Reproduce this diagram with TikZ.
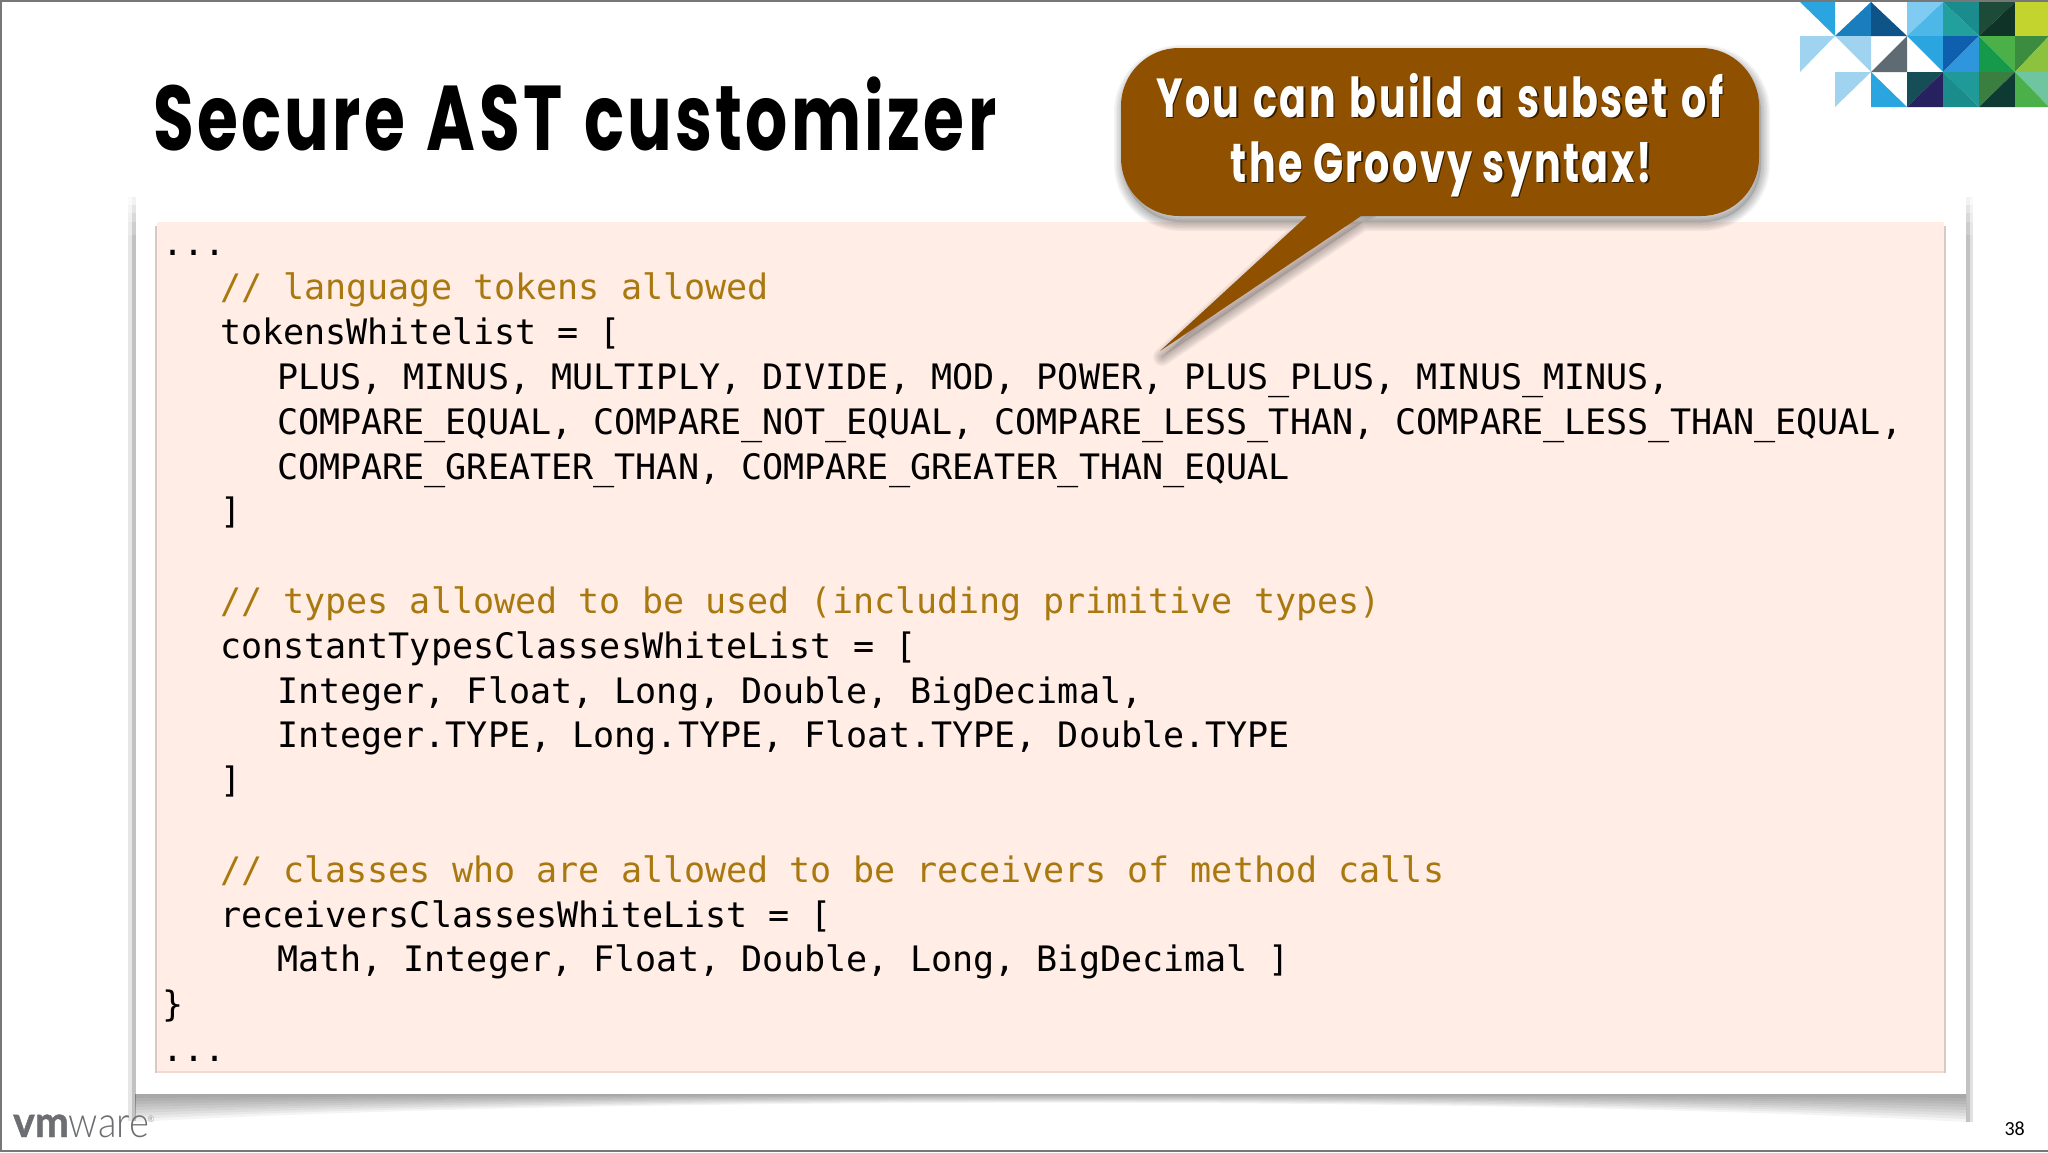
\documentclass[tikz,border=0pt]{standalone}
\usepackage{fontspec}
\setmainfont{Liberation Sans}
\newfontfamily\codefont{DejaVu Sans Mono}
\newfontfamily\headfont[FakeStretch=0.72,LetterSpace=3.6]{Poppins}
\newfontfamily\bubblefont[FakeStretch=0.72,LetterSpace=4.2]{Poppins}
\newfontfamily\numfont{Carlito}
\newfontfamily\vmfont[FakeStretch=0.95,FakeBold=1]{Lato}
\newfontfamily\warefont[FakeStretch=0.89]{Lato Light}
\definecolor{brownfill}{HTML}{8F5000}
\definecolor{pinkfill}{HTML}{FFEDE6}
\definecolor{pinkside}{HTML}{D6CBC4}
\definecolor{pinkbase}{HTML}{F1DAD2}
\definecolor{commentcol}{HTML}{A9790F}
\definecolor{logogray}{HTML}{6D6E71}
\definecolor{edgegray}{HTML}{777777}
\definecolor{skyA}{HTML}{2AA5DF}
\definecolor{skyB}{HTML}{A0D3F0}
\definecolor{HTMLa}{HTML}{1A7DBE}
\definecolor{HTMLb}{HTML}{0F5488}
\definecolor{HTMLc}{HTML}{7FCBF1}
\definecolor{HTMLd}{HTML}{4DB8E8}
\definecolor{HTMLe}{HTML}{1A8C8E}
\definecolor{HTMLf}{HTML}{22A09E}
\definecolor{HTMLg}{HTML}{1D4B38}
\definecolor{HTMLh}{HTML}{0F3326}
\definecolor{HTMLi}{HTML}{C4D42E}
\definecolor{HTMLj}{HTML}{5F6B73}
\definecolor{HTMLk}{HTML}{0E5FAE}
\definecolor{HTMLl}{HTML}{2E96DC}
\definecolor{HTMLm}{HTML}{149A4A}
\definecolor{HTMLn}{HTML}{4CB048}
\definecolor{HTMLo}{HTML}{3C8C3F}
\definecolor{HTMLp}{HTML}{8CC23E}
\definecolor{HTMLq}{HTML}{164E58}
\definecolor{HTMLr}{HTML}{28215F}
\definecolor{HTMLs}{HTML}{1F9A98}
\definecolor{HTMLt}{HTML}{1B8C8C}
\definecolor{HTMLu}{HTML}{3A7F3F}
\definecolor{HTMLv}{HTML}{0E3A34}
\definecolor{HTMLw}{HTML}{6FC5A0}
\definecolor{HTMLx}{HTML}{4CB04A}
\tikzset{
  codeline/.style={anchor=base west,inner sep=0pt,outer sep=0pt,text=black,font=\codefont\fontsize{35.06}{35}\selectfont},
  commentline/.style={codeline,text=commentcol},
  headtext/.style={anchor=base west,inner sep=0pt,text=black,font=\headfont\bfseries\fontsize{92}{92}\selectfont},
  bubbletext/.style={anchor=base,inner sep=0pt,font=\bubblefont\bfseries\fontsize{55}{55}\selectfont},
}
\newcommand{\tri}[4]{\fill[fill=#1] #2 -- #3 -- #4 -- cycle;}
\newcommand{\bubblepath}{[rounded corners=58pt] (1121,48) -- (1759,48) -- (1759,216) -- (1121,216) -- cycle [sharp corners] (1370,210) -- (1160,351) -- (1313.5,210) -- cycle}
\newcommand{\sublineone}{You\hspace{3.4pt} can\hspace{3.4pt} build\hspace{3.4pt} a\hspace{3.4pt} subset\hspace{3.4pt} of}
\begin{document}
\begin{tikzpicture}[x=1pt,y=-1pt]
\useasboundingbox (0,0) rectangle (2048,1152);
\fill[white] (0,0) rectangle (2048,1152);
% slide edge
\draw[edgegray,line width=2pt] (2048,1) -- (1,1) -- (1,1151) -- (2048,1151);
% frame shadows
\foreach \k in {4,7,...,28}{
  \fill[black,opacity=0.045] (135,1094) -- (1966,1094) -- (1966,1094+\k)
    .. controls (1500,1094+0.08*\k) and (600,1094+0.08*\k) .. (135,1094+\k) -- cycle;
}
\foreach \y in {197,205,213,222,235}{
  \fill[black,opacity=0.05] (132,\y) rectangle (136,1121);
  \fill[black,opacity=0.02] (128,\y) rectangle (132,1121);
  \fill[black,opacity=0.05] (1966,\y) rectangle (1970,1122);
  \fill[black,opacity=0.025] (1970,\y) rectangle (1973,1122);
}
% frame and panel
\fill[white] (136,200) rectangle (1966,1094);
\fill[pinkfill] (157,222) rectangle (1944,1072);
\draw[pinkbase,line width=2pt] (157,1072) -- (1944,1072);
\draw[pinkside,line width=2pt] (156,226) -- (156,1073);
\draw[pinkside,line width=2pt] (1945,226) -- (1945,1073);
% mosaic
\def\xa{1800}\def\xb{1835}\def\xc{1871}\def\xd{1907}\def\xe{1943}\def\xf{1979}\def\xg{2015}\def\xh{2049}
\def\ya{2}\def\yb{36}\def\yc{72}\def\yd{107}
\tri{skyA}{(\xa,\ya)}{(\xb,\ya)}{(\xb,\yb)}
\tri{HTMLa}{(\xb,\yb)}{(\xc,\ya)}{(\xc,\yb)}
\tri{HTMLb}{(\xc,\ya)}{(\xc,\yb)}{(\xd,\yb)}
\tri{HTMLc}{(\xd,\ya)}{(\xe,\ya)}{(\xd,\yb)}
\tri{HTMLd}{(\xe,\ya)}{(\xe,\yb)}{(\xd,\yb)}
\tri{HTMLe}{(\xe,\ya)}{(\xf,\ya)}{(\xf,\yb)}
\tri{HTMLf}{(\xe,\ya)}{(\xf,\yb)}{(\xe,\yb)}
\tri{HTMLg}{(\xf,\ya)}{(\xg,\ya)}{(\xf,\yb)}
\tri{HTMLh}{(\xg,\ya)}{(\xg,\yb)}{(\xf,\yb)}
\fill[HTMLi] (\xg,\ya) rectangle (\xh,\yb);
\tri{skyB}{(\xa,\yb)}{(\xb,\yb)}{(\xa,\yc)}
\tri{skyB}{(\xb,\yb)}{(\xc,\yb)}{(\xc,\yc)}
\tri{HTMLj}{(\xc,\yc)}{(\xd,\yb)}{(\xd,\yc)}
\tri{skyA}{(\xd,\yb)}{(\xe,\yb)}{(\xe,\yc)}
\tri{HTMLk}{(\xe,\yb)}{(\xf,\yb)}{(\xe,\yc)}
\tri{HTMLl}{(\xf,\yb)}{(\xf,\yc)}{(\xe,\yc)}
\tri{HTMLm}{(\xf,\yb)}{(\xg,\yc)}{(\xf,\yc)}
\tri{HTMLn}{(\xf,\yb)}{(\xg,\yb)}{(\xg,\yc)}
\tri{HTMLo}{(\xg,\yb)}{(\xh,\yb)}{(\xg,\yc)}
\tri{HTMLp}{(\xh,\yb)}{(\xh,\yc)}{(\xg,\yc)}
\tri{skyB}{(\xb,\yc)}{(\xc,\yc)}{(\xb,\yd)}
\tri{skyA}{(\xc,\yc)}{(\xc,\yd)}{(\xd,\yd)}
\tri{HTMLq}{(\xd,\yc)}{(\xe,\yc)}{(\xd,\yd)}
\tri{HTMLr}{(\xe,\yc)}{(\xe,\yd)}{(\xd,\yd)}
\tri{HTMLs}{(\xe,\yc)}{(\xf,\yc)}{(\xf,\yd)}
\tri{HTMLt}{(\xe,\yc)}{(\xf,\yd)}{(\xe,\yd)}
\tri{HTMLu}{(\xf,\yc)}{(\xg,\yc)}{(\xf,\yd)}
\tri{HTMLv}{(\xg,\yc)}{(\xg,\yd)}{(\xf,\yd)}
\tri{HTMLw}{(\xg,\yc)}{(\xh,\yc)}{(\xh,\yd)}
\tri{HTMLx}{(\xg,\yc)}{(\xh,\yd)}{(\xg,\yd)}
% title
\node[headtext] (title) at (153,150) {Secure\hspace{4.5pt} AST\hspace{4.5pt} customizer};
% code
\node[codeline] (l0) at (162,255) {...};
\node[commentline] (l1) at (220,299.8) {// language tokens allowed};
\node[codeline] (l2) at (220,344.6) {tokensWhitelist = [};
\node[codeline] (l3) at (277,389.4) {PLUS, MINUS, MULTIPLY, DIVIDE, MOD, POWER, PLUS\_PLUS, MINUS\_MINUS,};
\node[codeline] (l4) at (277,434.2) {COMPARE\_EQUAL, COMPARE\_NOT\_EQUAL, COMPARE\_LESS\_THAN, COMPARE\_LESS\_THAN\_EQUAL,};
\node[codeline] (l5) at (277,479) {COMPARE\_GREATER\_THAN, COMPARE\_GREATER\_THAN\_EQUAL};
\node[codeline] (l6) at (220,523.8) {]};
\node[commentline] (l8) at (220,613.4) {// types allowed to be used (including primitive types)};
\node[codeline] (l9) at (220,658.2) {constantTypesClassesWhiteList = [};
\node[codeline] (l10) at (277,703) {Integer, Float, Long, Double, BigDecimal,};
\node[codeline] (l11) at (277,747.8) {Integer.TYPE, Long.TYPE, Float.TYPE, Double.TYPE};
\node[codeline] (l12) at (220,792.6) {]};
\node[commentline] (l14) at (220,882.2) {// classes who are allowed to be receivers of method calls};
\node[codeline] (l15) at (220,927) {receiversClassesWhiteList = [};
\node[codeline] (l16) at (277,971.8) {Math, Integer, Float, Double, Long, BigDecimal ]};
\node[codeline] (l17) at (162,1016.6) {\}};
\node[codeline] (l18) at (162,1061.4) {...};
% callout
\begin{scope}[shift={(2,6)}]
\foreach \w in {18,15,...,1}{
  \path[draw=black,fill=black,line width=\w pt,line join=round,draw opacity=0.045,fill opacity=0.02] \bubblepath;
}
\end{scope}
\fill[brownfill] \bubblepath;
\node[bubbletext,text=black!65!brownfill] (s1) at (1441.5,118.5) {\sublineone};
\node[bubbletext,text=black!65!brownfill] (s2) at (1443,183.5) {the Groovy syntax!};
\node[bubbletext,text=white] (t1) at (1440,117) {\sublineone};
\node[bubbletext,text=white] (t2) at (1441.5,182) {the Groovy syntax!};
% footer
\node[anchor=base west,inner sep=0pt,text=logogray,font=\fontsize{43}{43}\selectfont] (logo) at (13,1137) {{\vmfont\bfseries vm}{\warefont ware}};
\node[anchor=base west,inner sep=0pt,text=logogray,font=\fontsize{9}{9}\selectfont\warefont] (reg) at (147.5,1122) {®};
\node[anchor=base east,inner sep=0pt,text=black,font=\numfont\fontsize{20}{20}\selectfont] (num) at (2025,1135) {38};
\end{tikzpicture}
\end{document}
